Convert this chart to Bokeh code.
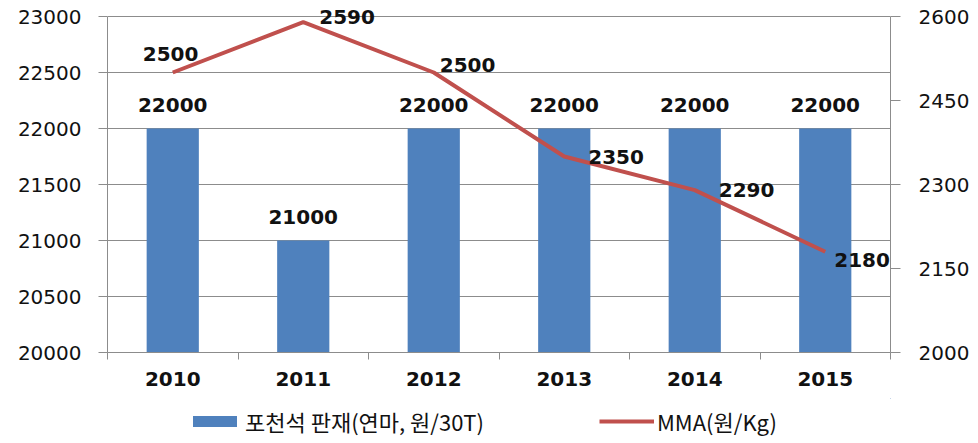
from bokeh.plotting import figure
from bokeh.layouts import column
from bokeh.models import (Range1d, LinearAxis, FixedTicker, ColumnDataSource,
                          Legend, LegendItem, LabelSet)
from bokeh.core.properties import value
from bokeh.embed import file_html
from bokeh.resources import INLINE

years = ["2010", "2011", "2012", "2013", "2014", "2015"]
stone_price = [22000, 21000, 22000, 22000, 22000, 22000]
mma_price = [2500, 2590, 2500, 2350, 2290, 2180]
left_ticks = [20000, 20500, 21000, 21500, 22000, 22500, 23000]
right_ticks = [2000, 2150, 2300, 2450, 2600]
bar_name = "포천석 판재(연마, 원/30T)"
line_name = "MMA(원/Kg)"

# label placement (style, screen px; positive dy = up)
mma_dx = [-30, 16, 6, 24, 24, 9]
mma_dy = [19, 5, 8, 0, 0, -8]

BAR_COLOR = "#4F81BD"
LINE_COLOR = "#C0504D"
NUM_FONT = "DejaVu Sans"
KR_FONT = "Noto Sans CJK KR"
GRID = "#8c8c8c"
TXT = "#111111"

# frame geometry: axis span 336px, plus headroom above the top tick for labels
AXIS_PX = 336
PAD_PX = 12
l_lo, l_hi = left_ticks[0], left_ticks[-1]
r_lo, r_hi = right_ticks[0], right_ticks[-1]
l_top = l_hi + PAD_PX * (l_hi - l_lo) / AXIS_PX
r_top = r_hi + PAD_PX * (r_hi - r_lo) / AXIS_PX

xpos = [i + 0.5 for i in range(len(years))]
src = ColumnDataSource(dict(
    x=xpos, bar=stone_price, mma=mma_price,
    bar_txt=[str(v) for v in stone_price],
    mma_txt=[str(v) for v in mma_price],
    dx=mma_dx, dy=mma_dy,
))

p = figure(width=976, height=398, output_backend="svg", toolbar_location=None,
           x_range=Range1d(0, len(years)), y_range=Range1d(l_lo, l_top),
           min_border_left=107, min_border_right=86, min_border_top=16 - PAD_PX,
           min_border_bottom=46)
p.outline_line_color = None
p.extra_y_ranges = {"mma": Range1d(r_lo, r_top)}

# x axis
xa = p.xaxis[0]
xa.ticker = FixedTicker(ticks=xpos, minor_ticks=list(range(len(years) + 1)))
xa.major_label_overrides = {x: y for x, y in zip(xpos, years)}
xa.major_tick_line_color = None
xa.major_tick_out = 0
xa.major_tick_in = 0
xa.minor_tick_out = 7
xa.minor_tick_in = 0
xa.minor_tick_line_color = GRID
xa.axis_line_color = GRID
xa.major_label_text_font = NUM_FONT
xa.major_label_text_font_size = "20px"
xa.major_label_text_font_style = "bold"
xa.major_label_text_color = TXT
xa.major_label_standoff = 12

# left axis
ya = p.yaxis[0]
ya.ticker = FixedTicker(ticks=left_ticks)
ya.bounds = (l_lo, l_hi)
ya.minor_tick_line_color = None
ya.major_tick_out = 9
ya.major_tick_in = 0
ya.major_tick_line_color = GRID
ya.axis_line_color = GRID
ya.major_label_text_font = NUM_FONT
ya.major_label_text_font_size = "20px"
ya.major_label_text_color = TXT
ya.major_label_standoff = 17

# right axis
ra = LinearAxis(y_range_name="mma", ticker=FixedTicker(ticks=right_ticks),
                bounds=(r_lo, r_hi))
ra.minor_tick_line_color = None
ra.major_tick_out = 10
ra.major_tick_in = 0
ra.major_tick_line_color = GRID
ra.axis_line_color = GRID
ra.major_label_text_font = NUM_FONT
ra.major_label_text_font_size = "20px"
ra.major_label_text_color = TXT
ra.major_label_standoff = 18
p.add_layout(ra, "right")

p.xgrid.grid_line_color = None
p.ygrid.grid_line_color = GRID
p.ygrid.ticker = FixedTicker(ticks=left_ticks)

p.vbar(x="x", top="bar", bottom=l_lo, width=0.4, source=src,
       fill_color=BAR_COLOR, line_color=None)
p.line(x="x", y="mma", source=src, y_range_name="mma",
       line_color=LINE_COLOR, line_width=4)

bar_labels = LabelSet(x="x", y="bar", text="bar_txt", source=src,
                      text_align="center", text_baseline="middle", y_offset=24,
                      text_font=value(NUM_FONT), text_font_size="20px", text_font_style="bold",
                      text_color=TXT)
p.add_layout(bar_labels)

mma_labels = LabelSet(x="x", y="mma", text="mma_txt", source=src, y_range_name="mma",
                      x_offset="dx", y_offset="dy",
                      text_align="left", text_baseline="middle",
                      text_font=value(NUM_FONT), text_font_size="20px", text_font_style="bold",
                      text_color=TXT)
p.add_layout(mma_labels)

# legend strip below the chart (same series, drawn out of its visible range)
q = figure(width=976, height=45, output_backend="svg", toolbar_location=None,
           x_range=Range1d(-20, -19), y_range=Range1d(-20, -19),
           min_border=0, min_border_left=0, min_border_right=0,
           min_border_top=0, min_border_bottom=0)
q.axis.visible = False
q.grid.visible = False
q.outline_line_color = None
lb = q.vbar(x="x", top="bar", bottom=l_lo, width=0.4, source=src,
            fill_color=BAR_COLOR, line_color=None)
ll = q.line(x="x", y="mma", source=src, line_color=LINE_COLOR, line_width=4)
legend = Legend(items=[LegendItem(label=bar_name, renderers=[lb]),
                       LegendItem(label=line_name, renderers=[ll])],
                orientation="horizontal", location=(80, 6),
                glyph_width=55, glyph_height=14, label_standoff=3, spacing=115,
                padding=0, margin=0, border_line_color=None, background_fill_alpha=0,
                label_text_font=KR_FONT, label_text_font_size="22px",
                label_text_color=TXT)
q.add_layout(legend)

layout = column(p, q, spacing=0)
open("out.html", "w").write(file_html(layout, INLINE))
